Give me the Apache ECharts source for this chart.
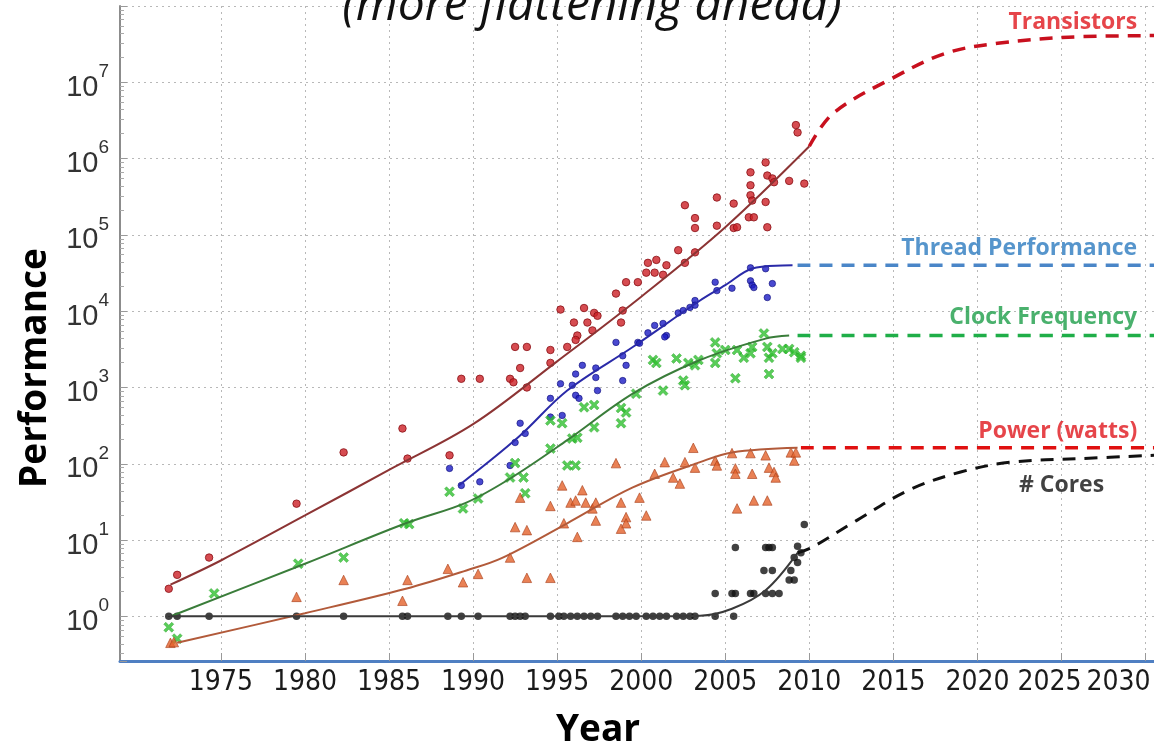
<!DOCTYPE html>
<html><head><meta charset="utf-8">
<script src="https://cdn.jsdelivr.net/npm/echarts@6/dist/echarts.min.js"></script>
<style>html,body{margin:0;padding:0;background:#fff}#c{width:1154px;height:750px}</style>
</head><body><div id="c"></div>
<script>
// ---------- data ----------
const yearTicks = [1975,1980,1985,1990,1995,2000,2005,2010,2015,2020,2025,2030];

const transistors = [[1971.9,2.3],[1972.4,3.5],[1974.3,5.9],[1979.5,30],[1982.3,141],[1985.8,290],[1986.1,117],[1988.6,129],[1989.3,1300],[1990.4,1300],[1992.2,1300],[1992.4,1170],[1992.5,3400],[1993.2,3400],[1992.8,1800],[1993.2,1000],[1994.6,3100],[1994.6,2100],[1995.2,10500],[1995.6,3400],[1996.0,7100],[1996.2,4800],[1996.1,4200],[1996.6,11000],[1996.8,7100],[1997.2,9500],[1997.4,8700],[1997.1,5600],[1998.5,17000],[1998.9,10200],[1998.8,7100],[1999.1,24000],[1999.8,24000],[2000.4,43000],[2000.9,47000],[2000.3,32000],[2000.8,32000],[2001.5,40000],[2001.3,30000],[2002.2,63000],[2002.6,43000],[2002.6,245000],[2003.2,166000],[2003.2,123000],[2003.2,59000],[2004.5,309000],[2004.5,132000],[2005.5,123000],[2005.7,126000],[2005.5,257000],[2006.5,660000],[2006.5,447000],[2006.5,331000],[2006.6,282000],[2006.4,170000],[2006.7,170000],[2007.4,890000],[2007.5,600000],[2007.8,550000],[2007.9,490000],[2007.4,270000],[2007.5,126000],[2008.8,510000],[2009.2,2750000],[2009.3,2200000],[2009.7,470000]];

const threadPerf = [[1988.6,87],[1989.3,52],[1990.4,58],[1992.2,95],[1992.5,190],[1992.8,340],[1993.1,250],[1994.6,410],[1994.6,720],[1995.2,1120],[1995.3,430],[1995.9,1070],[1996.1,790],[1996.3,720],[1996.1,1500],[1996.5,1950],[1997.3,1800],[1997.4,910],[1997.3,1350],[1998.5,3900],[1998.9,2600],[1998.9,1230],[1999.1,1950],[1999.8,3900],[1999.9,3800],[2000.4,5200],[2000.8,6500],[2001.3,6900],[2001.5,4800],[2001.4,4600],[2002.2,9500],[2002.5,10200],[2002.9,11200],[2003.2,13800],[2003.2,12000],[2004.4,24000],[2004.5,18600],[2005.4,20000],[2006.5,37000],[2006.5,25000],[2006.6,22000],[2006.7,20400],[2007.4,36000],[2007.8,23000],[2007.5,15100]];

const clockFreq = [[1971.9,0.72],[1972.4,0.51],[1974.6,2.0],[1979.6,4.9],[1982.3,5.9],[1985.9,16.6],[1986.2,16.2],[1988.6,43],[1989.4,26],[1990.3,35],[1992.2,66],[1992.5,102],[1993.0,66],[1993.1,41],[1994.6,370],[1994.6,158],[1995.3,340],[1995.6,95],[1996.1,95],[1995.9,214],[1996.2,219],[1996.6,550],[1997.2,590],[1997.2,300],[1998.8,540],[1999.1,470],[1998.8,340],[1999.7,830],[2000.7,2300],[2001.3,910],[2000.9,2100],[2002.1,2400],[2002.5,1230],[2002.8,2100],[2003.2,1950],[2003.4,2300],[2002.6,1070],[2004.4,3900],[2004.5,2800],[2004.4,2100],[2005.0,3100],[2005.6,1320],[2005.7,3100],[2006.1,2450],[2006.5,2800],[2006.6,3400],[2007.3,5100],[2007.5,3400],[2007.6,2450],[2007.6,1500],[2007.8,2800],[2008.4,3200],[2008.8,3200],[2009.1,2900],[2009.5,2600],[2009.5,2450]];

const powerWatts = [[1972.0,0.45],[1972.2,0.46],[1979.5,1.8],[1982.3,3.0],[1985.8,1.6],[1986.1,3.0],[1988.5,4.2],[1989.4,2.8],[1990.3,3.6],[1992.2,5.9],[1992.5,14.8],[1993.2,13.5],[1992.8,36],[1993.2,3.2],[1994.6,28],[1994.6,3.2],[1995.3,52],[1995.4,16.6],[1995.8,31],[1996.1,33],[1996.2,11],[1996.5,45],[1996.7,31],[1997.1,26],[1997.3,18],[1997.3,31],[1998.5,102],[1998.8,31],[1999.1,20],[1999.1,16.6],[1998.8,14.1],[1999.9,36],[2000.3,21],[2000.8,74],[2001.4,105],[2001.9,66],[2002.3,55],[2002.6,105],[2003.1,162],[2003.2,89],[2004.4,110],[2004.5,95],[2005.4,138],[2005.6,87],[2005.6,74],[2005.7,26],[2006.5,138],[2006.6,74],[2006.7,33],[2007.4,129],[2007.5,33],[2007.6,89],[2007.9,78],[2008.0,66],[2008.9,141],[2009.1,110],[2009.2,141]];

const numCores = [[1971.9,1],[1972.4,1],[1974.3,1],[1979.5,1],[1982.3,1],[1985.8,1],[1986.1,1],[1988.5,1],[1989.3,1],[1990.3,1],[1992.2,1],[1992.5,1],[1992.8,1],[1993.1,1],[1994.6,1],[1995.1,1],[1995.4,1],[1995.8,1],[1996.2,1],[1996.6,1],[1997.0,1],[1997.4,1],[1998.5,1],[1998.9,1],[1999.3,1],[1999.7,1],[2000.3,1],[2000.7,1],[2001.1,1],[2001.5,1],[2002.1,1],[2002.5,1],[2002.9,1],[2003.2,1],[2004.4,1],[2005.5,1],[2004.4,2],[2005.4,2],[2005.6,2],[2006.5,2],[2006.7,2],[2007.4,2],[2007.8,2],[2008.2,2],[2008.8,3],[2009.1,3],[2007.3,4],[2007.8,4],[2008.9,4],[2005.6,8],[2007.4,8],[2007.6,8],[2007.8,8],[2009.3,8.3],[2009.5,6.8],[2009.7,16],[2009.1,5.9],[2009.3,5.1]];

// fitted trend curves (solid) and projections (dashed)
const transFit  = [[1972,2.6],[1975,5.4],[1980,21],[1985,83],[1990,330],[1995,2200],[2000,15500],[2005,126000],[2010,1450000]];
const transProj = [[2010,1450000],[2011.4,3900000],[2014.9,11200000],[2018.1,24000000],[2021.2,32400000],[2025.4,39000000],[2030.7,41000000]];
const threadFit  = [[1989.15,52],[1992.7,224],[1995.6,912],[1999.5,3390],[2003.5,13800],[2005.0,21900],[2006.6,36300],[2008.4,39800],[2009.0,40000]];
const threadProj = [[2009.3,40000],[2030.5,40000]];
const clockFit  = [[1972.1,1.02],[1980,4.9],[1986,16.6],[1989.6,31],[1992.3,66],[1995.6,204],[1999.5,832],[2003.5,2290],[2007.4,4370],[2008.8,4790]];
const clockProj = [[2009.3,4800],[2030.5,4800]];
const powerFit  = [[1972.4,0.45],[1980,1.1],[1986,2.3],[1989.6,4.0],[1991.7,5.8],[1995.6,16.6],[1999.5,49],[2003.5,105],[2005.4,141],[2009.3,162]];
const powerProj = [[2009.5,162],[2030.5,162]];
const coresFit  = [[1972,1],[1985,1],[2000,1],[2003.5,1.02],[2005.4,1.26],[2007.4,2.2],[2009.3,6.8]];
const coresProj = [[2009.3,6.8],[2010.1,7.9],[2012.8,18],[2015.9,45],[2019.0,78],[2022.0,105],[2026.2,117],[2030.5,129]];

// annotation texts, anchored in data space
const seriesLabels = [
  ['Transistors', 2029.5, 6.0e7],
  ['Thread Performance', 2029.5, 67000],
  ['Clock Frequency', 2029.5, 8200],
  ['Power (watts)', 2029.5, 263],
  ['# Cores', 2025.0, 52]
];
const labelColors = ['#e0161d','#2c7bbf','#1d9e48','#e0161d','#111111'];

// ---------- chart ----------
const chart = echarts.init(document.getElementById('c'), null, {renderer:'canvas'});
const xMark = 'path://M0,2L2,0L5,3L8,0L10,2L7,5L10,8L8,10L5,7L2,10L0,8L3,5Z';
const xFont = "'DejaVu Sans Condensed', 'Liberation Sans', sans-serif";

function fitLine(data, color, width) {
  return {type:'line', data, smooth:0.35, showSymbol:false, symbol:'none', z:4,
    lineStyle:{color, width}, silent:true};
}
function projLine(data, color, width) {
  return {type:'line', data, smooth:0.35, showSymbol:false, symbol:'none', z:4,
    lineStyle:{color, width, type:[13,9]}, silent:true};
}

const option = {
  animation:false,
  backgroundColor:'#fff',
  title:{
    text:'(more flattening ahead)', left:587, top:-23, textAlign:'center',
    textStyle:{fontFamily:'Open Sans', fontStyle:'italic', fontWeight:'normal', fontSize:48, color:'#111'}
  },
  grid:{left:120, right:0, top:6, bottom:89, outerBoundsMode:'none', containLabel:false},
  xAxis:{
    type:'value', min:1969, max:2030.5,
    axisLine:{show:true, lineStyle:{color:'#4f7fc2', width:3}},
    axisTick:{show:true, inside:true, length:8, lineStyle:{color:'#999'}, customValues:yearTicks},
    axisLabel:{customValues:yearTicks, margin:8, fontFamily:xFont, fontSize:28, color:'#1a1a1a',
      hideOverlap:false,
      formatter:v=> v===2030 ? '{p|2030}' : (v===2025 ? '{q|2025}' : String(v)),
      rich:{
        p:{fontFamily:xFont, fontSize:28, color:'#1a1a1a', padding:[0,54,0,0]},
        q:{fontFamily:xFont, fontSize:28, color:'#1a1a1a', padding:[0,24,0,0]}
      }},
    splitLine:{show:true, lineStyle:{color:'#b8b8b8', type:[2,4], width:1}}
  },
  yAxis:{
    type:'log', logBase:10, min:0.26, max:1e8, splitNumber:8,
    axisLine:{show:true, lineStyle:{color:'#8c8c8c', width:2}},
    axisTick:{show:true, inside:true, length:7, lineStyle:{color:'#999'}},
    minorTick:{show:true, splitNumber:8, length:4, lineStyle:{color:'#aaa'}},
    splitLine:{show:true, lineStyle:{color:'#b8b8b8', type:[2,4], width:1}},
    axisLabel:{
      margin:11, showMinLabel:false, showMaxLabel:false,
      formatter:v=>{
        const l = Math.log10(v), e = Math.round(l);
        if (Math.abs(l-e)>0.01 || e>7 || e<0) return '';
        return '{b|10}{s|'+e+'}';
      },
      rich:{
        b:{fontFamily:'Liberation Sans', fontSize:29, color:'#333', lineHeight:40, verticalAlign:'bottom'},
        s:{fontFamily:'Liberation Sans', fontSize:19, color:'#333', lineHeight:18, verticalAlign:'top'}
      }
    }
  },
  graphic:[
    {type:'text', x:598, y:730, style:{text:'Year', fontFamily:'Open Sans', fontWeight:'bold', fontSize:37, fill:'#000', align:'center', verticalAlign:'middle'}},
    {type:'text', x:35, y:368, rotation:Math.PI/2, style:{text:'Performance', fontFamily:'Open Sans', fontWeight:'bold', fontSize:37, fill:'#000', align:'center', verticalAlign:'middle'}}
  ],
  series:[
    {type:'scatter', data:transistors, symbol:'circle', symbolSize:7.5, z:3,
      itemStyle:{color:'#cc1f26', borderColor:'#8a1015', borderWidth:1}},
    {type:'scatter', data:threadPerf, symbol:'circle', symbolSize:6.5, z:3,
      itemStyle:{color:'#1c1cc4', borderColor:'#10107a', borderWidth:0.8}},
    {type:'scatter', data:clockFreq, symbol:xMark, symbolSize:10, z:3,
      itemStyle:{color:'#2fc02f', borderColor:'#1f9a1f', borderWidth:0.5}},
    {type:'scatter', data:powerWatts, symbol:'triangle', symbolSize:9.5, z:3,
      itemStyle:{color:'#e3612b', borderColor:'#a8401c', borderWidth:0.8}},
    {type:'scatter', data:numCores, symbol:'circle', symbolSize:7.5, z:3,
      itemStyle:{color:'#111'}},
    fitLine(transFit, '#8c3434', 2),
    fitLine(threadFit, '#2a2aa8', 2),
    fitLine(clockFit, '#3a7d3a', 2),
    fitLine(powerFit, '#b25a3a', 2),
    fitLine(coresFit, '#3a3a3a', 2),
    projLine(transProj, '#c8101e', 3.5),
    projLine(threadProj, '#4a86c8', 3.5),
    projLine(clockProj, '#1fae48', 3.5),
    projLine(powerProj, '#e01010', 3.5),
    projLine(coresProj, '#111111', 3),
    {type:'scatter', symbolSize:0, z:6, silent:true,
      data: seriesLabels.map((d,i)=>({value:[d[1], d[2]], name:d[0],
        label:{show:true, formatter:d[0], position: i===4 ? 'inside' : 'left', distance:0,
          color:labelColors[i], fontFamily:'Open Sans', fontWeight:'bold', fontSize:23}}))}
  ]
};
chart.setOption(option);
</script>
</body></html>
